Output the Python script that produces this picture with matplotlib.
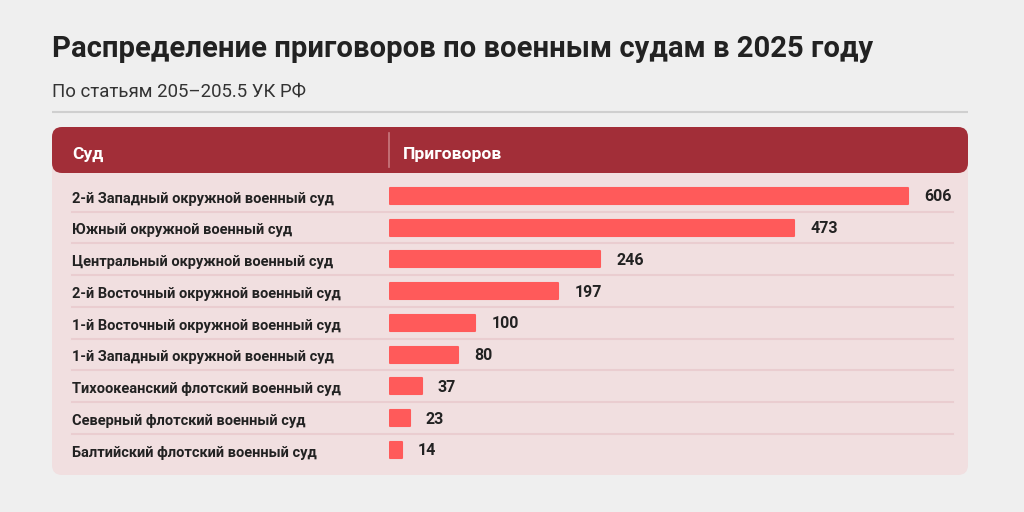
import matplotlib
matplotlib.use("Agg")
import matplotlib.pyplot as plt
from matplotlib.patches import FancyBboxPatch
from matplotlib.transforms import ScaledTranslation
import numpy as np

# ---- data ----
courts = [
    "2-й Западный окружной военный суд",
    "Южный окружной военный суд",
    "Центральный окружной военный суд",
    "2-й Восточный окружной военный суд",
    "1-й Восточный окружной военный суд",
    "1-й Западный окружной военный суд",
    "Тихоокеанский флотский военный суд",
    "Северный флотский военный суд",
    "Балтийский флотский военный суд",
]
sentences = [606, 473, 246, 197, 100, 80, 37, 23, 14]

title = "Распределение приговоров по военным судам в 2025 году"
subtitle = "По статьям 205–205.5 УК РФ"
col_head = ["Суд", "Приговоров"]

# ---- style ----
FONT = "Roboto"
BG = "#efefef"
HEAD = "#a22e38"
BODY = "#f1dfe0"
BAR = "#ff5a5a"
TXT = "#222222"
ROWLINE = "#eacdd0"

W, H = 1024, 512
fig = plt.figure(figsize=(W / 100, H / 100), dpi=100, facecolor=BG)

# pixel-space background axes
bg = fig.add_axes([0, 0, 1, 1])
bg.set_xlim(0, W)
bg.set_ylim(H, 0)
bg.axis("off")

bg.text(52, 57, title, fontsize=21.1, fontweight="bold", color=TXT,
        family=FONT, va="baseline", ha="left")
bg.text(52, 96.5, subtitle, fontsize=13.4, color="#333333",
        family=FONT, va="baseline", ha="left")
bg.plot([52, 968], [111.5, 111.5], color="#cfcfcf", lw=1.5, solid_capstyle="butt")

r = 10
bg.add_patch(FancyBboxPatch((52 + r, 127 + r), 916 - 2 * r, 348 - 2 * r,
                            boxstyle=f"round,pad={r}", fc=BODY, ec="none"))
bg.add_patch(FancyBboxPatch((52 + r, 127 + r), 916 - 2 * r, 46 - 2 * r,
                            boxstyle=f"round,pad={r}", fc=HEAD, ec="none"))
bg.plot([389, 389], [133, 167], color="#c97a80", lw=1.2)
bg.text(72, 159, col_head[0], fontsize=12.6, fontweight="bold", color="white",
        family=FONT, va="baseline")
bg.text(403, 159, col_head[1], fontsize=12.6, fontweight="bold", color="white",
        family=FONT, va="baseline")

# ---- bar axes ----
x0, x1 = 389, 953
row0, step = 195.8, 31.75
top = row0 - step / 2
height = step * len(courts)
pxu = 518 / 606  # pixels per unit
ax = fig.add_axes([x0 / W, (H - top - height) / H, (x1 - x0) / W, height / H])
ax.set_xlim(-1 / pxu, (x1 - x0 - 1) / pxu)
ax.set_ylim(len(courts) - 0.5, -0.5)
ax.axis("off")
ax.patch.set_alpha(0)

y = np.arange(len(courts))
ax.barh(y, sentences, height=16 / step, color=BAR, edgecolor=BAR, linewidth=1.5,
        joinstyle="round")

# row separators (span label column too)
for i in range(len(courts) - 1):
    yy = row0 + step * (i + 0.5)
    bg.plot([72, 953], [yy, yy], color=ROWLINE, lw=1.5, zorder=1)

for i, (c, v) in enumerate(zip(courts, sentences)):
    ax.text(v, i, f"{v}",
            transform=ax.transData + ScaledTranslation(16 / 100, -5.5 / 100, fig.dpi_scale_trans),
            fontsize=11.5, fontweight="bold", color=TXT, family=FONT,
            va="baseline", ha="left", clip_on=False)
    bg.text(72, row0 + step * i + 6.9, c, fontsize=10.5, fontweight="bold",
            color=TXT, family=FONT, va="baseline", ha="left")

fig.savefig("out.png", dpi=100, facecolor=BG)
